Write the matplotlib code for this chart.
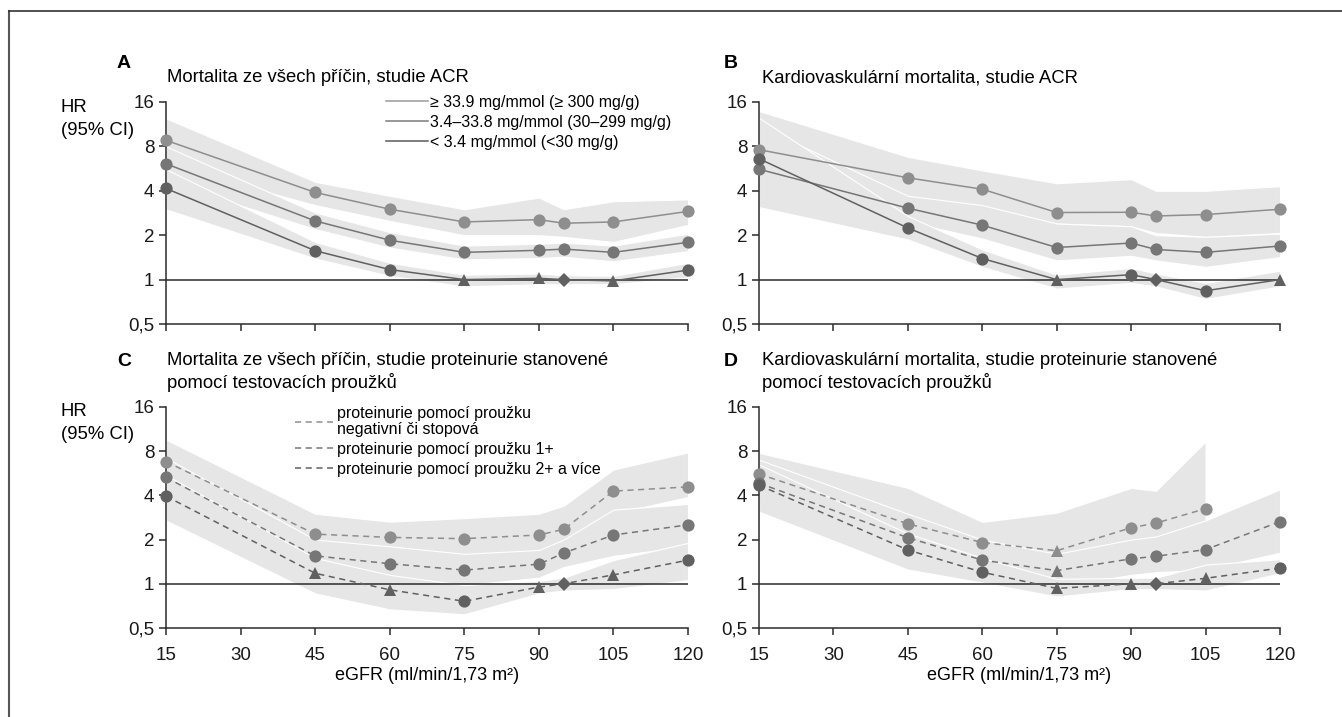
import numpy as np
import matplotlib
matplotlib.use("Agg")
import matplotlib.pyplot as plt
from matplotlib.lines import Line2D
from matplotlib.ticker import FixedLocator, NullLocator

plt.rcParams['font.family'] = ['Liberation Sans Narrow', 'Liberation Sans', 'DejaVu Sans']

nan = np.nan

# eGFR body kategorii (ml/min/1,73 m2)
egfr = [15, 45, 60, 75, 90, 95, 105, 120]
x_ticks = [15, 30, 45, 60, 75, 90, 105, 120]
y_ticks = [0.5, 1, 2, 4, 8, 16]
y_labels = ["0,5", "1", "2", "4", "8", "16"]

# A - mortalita ze vsech pricin, ACR
a_top = [8.8, 3.9, 3.0, 2.46, 2.55, 2.41, 2.46, 2.9]
a_top_lo = [6.0, 3.2, 2.5, 2.0, 2.0, 1.95, 1.8, 2.35]
a_top_hi = [12.4, 4.6, 3.7, 3.0, 3.6, 3.0, 3.4, 3.5]
a_mid = [6.1, 2.5, 1.85, 1.53, 1.58, 1.61, 1.53, 1.79]
a_mid_lo = [4.6, 2.2, 1.65, 1.37, 1.4, 1.43, 1.33, 1.56]
a_mid_hi = [8.0, 2.85, 2.1, 1.7, 1.75, 1.78, 1.7, 2.05]
a_low = [4.15, 1.57, 1.17, 1.0, 1.02, 1.0, 0.98, 1.16]
a_low_lo = [3.0, 1.39, 1.06, 0.9, 0.93, 0.93, 0.93, 1.04]
a_low_hi = [5.6, 1.8, 1.3, 1.08, 1.1, 1.07, 1.06, 1.3]
a_low_mk = ['o', 'o', 'o', '^', '^', 'D', '^', 'o']

# B - kardiovaskularni mortalita, ACR
b_top = [7.6, 4.9, 4.1, 2.85, 2.86, 2.7, 2.76, 3.0]
b_top_lo = [4.3, 3.6, 3.1, 2.4, 2.3, 2.07, 1.95, 2.07]
b_top_hi = [13.9, 6.8, 5.5, 4.5, 4.8, 4.0, 4.0, 4.3]
b_mid = [5.6, 3.05, 2.34, 1.65, 1.77, 1.6, 1.53, 1.69]
b_mid_lo = [3.3, 2.46, 1.9, 1.35, 1.45, 1.35, 1.22, 1.42]
b_mid_hi = [11.0, 3.7, 3.2, 2.4, 2.3, 2.0, 1.95, 2.05]
b_low = [6.6, 2.24, 1.39, 1.0, 1.08, 1.0, 0.84, 1.0]
b_low_lo = [3.1, 1.87, 1.22, 0.87, 0.95, 0.9, 0.74, 0.9]
b_low_hi = [12.5, 2.7, 1.6, 1.08, 1.2, 1.1, 0.95, 1.15]
b_low_mk = ['o', 'o', 'o', '^', 'o', 'D', 'o', '^']

# C - mortalita ze vsech pricin, proteinurie (prouzky)
c_top = [6.8, 2.18, 2.07, 2.03, 2.15, 2.35, 4.28, 4.57]
c_top_lo = [4.5, 1.7, 1.6, 1.55, 1.6, 1.75, 3.0, 3.9]
c_top_hi = [9.6, 3.0, 2.65, 2.8, 3.0, 3.4, 6.0, 7.85]
c_mid = [5.3, 1.55, 1.37, 1.24, 1.36, 1.62, 2.15, 2.52]
c_mid_lo = [3.6, 1.2, 1.05, 0.98, 1.1, 1.3, 1.55, 1.8]
c_mid_hi = [7.2, 2.0, 1.8, 1.6, 1.7, 2.0, 3.2, 3.5]
c_low = [3.95, 1.18, 0.91, 0.76, 0.95, 1.0, 1.15, 1.45]
c_low_lo = [2.7, 0.86, 0.67, 0.62, 0.86, 0.9, 0.92, 1.06]
c_low_hi = [5.5, 1.5, 1.15, 0.98, 1.05, 1.1, 1.45, 1.9]
c_low_mk = ['o', '^', '^', 'o', '^', 'D', '^', 'o']

# D - kardiovaskularni mortalita, proteinurie (prouzky)
d_top = [5.6, 2.56, 1.91, 1.68, 2.41, 2.59, 3.25, nan]
d_top_lo = [3.8, 1.75, 1.4, 1.15, 1.5, 1.6, 1.95, nan]
d_top_hi = [7.8, 4.5, 2.64, 3.05, 4.5, 4.3, 9.3, nan]
d_top_mk = ['o', 'o', 'o', '^', 'o', 'o', 'o', 'o']
d_mid = [4.85, 2.06, 1.45, 1.23, 1.48, 1.54, 1.71, 2.65]
d_mid_lo = [3.3, 1.5, 1.1, 0.95, 1.15, 1.2, 1.25, 1.63]
d_mid_hi = [7.0, 3.0, 2.0, 1.6, 2.0, 2.1, 2.7, 4.4]
d_mid_mk = ['o', 'o', 'o', '^', 'o', 'o', 'o', 'o']
d_low = [4.7, 1.7, 1.2, 0.93, 1.0, 1.0, 1.09, 1.28]
d_low_lo = [3.1, 1.25, 1.02, 0.82, 0.92, 0.92, 0.9, 1.18]
d_low_hi = [6.5, 2.2, 1.5, 1.08, 1.1, 1.1, 1.35, 1.47]
d_low_mk = ['o', 'o', 'o', '^', '^', 'D', '^', 'o']

circ = ['o'] * 8

acr_labels = ["\u2265 33.9 mg/mmol (\u2265 300 mg/g)",
              "3.4\u201333.8 mg/mmol (30\u2013299 mg/g)",
              "< 3.4 mg/mmol (<30 mg/g)"]
dip_labels = ["proteinurie pomocí proužku\nnegativní či stopová",
              "proteinurie pomocí proužku 1+",
              "proteinurie pomocí proužku 2+ a více"]

colors = ['#8e8e8e', '#767676', '#606060']
band_color = '#e6e6e6'
axis_color = '#2b2b2b'

W, H = 1342, 717
fig = plt.figure(figsize=(W / 100, H / 100), dpi=100)


def fx(px):
    return px / W


def fy(py):
    return 1 - py / H


def make_ax(left, right, top, bottom):
    return fig.add_axes([fx(left), fy(bottom), fx(right - left), (bottom - top) / H])


def draw_panel(ax, series, dashed, show_xlabels):
    x = np.array(egfr, dtype=float)
    # pasma 95% CI
    for y, lo, hi, mk in series:
        ax.fill_between(x, lo, hi, facecolor=band_color, edgecolor='white',
                        linewidth=0.8, zorder=1)
    ax.plot([15, 120], [1, 1], color=axis_color, lw=1.1, zorder=2)
    ls = (0, (4, 3)) if dashed else '-'
    for (y, lo, hi, mk), col in zip(series, colors):
        y = np.array(y, dtype=float)
        ax.plot(x, y, linestyle=ls, color=col, lw=1.1, zorder=3)
        for m in set(mk):
            idx = [i for i, v in enumerate(mk) if v == m and not np.isnan(y[i])]
            size = 7.0 if m == 'D' else 8.8
            ax.plot(x[idx], y[idx], linestyle='none', marker=m, markersize=size,
                    color=col, markeredgewidth=0, zorder=4, clip_on=False)
    ax.set_yscale('log', base=2)
    ax.set_xlim(15, 120)
    ax.set_ylim(0.5, 16)
    ax.yaxis.set_major_locator(FixedLocator(y_ticks))
    ax.yaxis.set_minor_locator(NullLocator())
    ax.set_yticklabels(y_labels)
    ax.set_xticks(x_ticks)
    if show_xlabels:
        ax.set_xticklabels([str(v) for v in x_ticks])
        ax.set_xlabel("eGFR (ml/min/1,73 m\u00b2)", fontsize=13, labelpad=2)
    else:
        ax.set_xticklabels([])
    for s in ['top', 'right']:
        ax.spines[s].set_visible(False)
    for s in ['left', 'bottom']:
        ax.spines[s].set_color(axis_color)
        ax.spines[s].set_linewidth(1.1)
    ax.tick_params(direction='out', length=5, width=1.1, color=axis_color,
                   labelsize=13.5, labelcolor='#1a1a1a')
    ax.tick_params(axis='y', pad=3.5)
    ax.tick_params(axis='x', pad=9)
    ax.patch.set_visible(False)


ax_a = make_ax(166, 688, 102, 324)
ax_b = make_ax(759, 1280, 102, 324)
ax_c = make_ax(166, 688, 407, 628)
ax_d = make_ax(759, 1280, 407, 628)

draw_panel(ax_a, [(a_top, a_top_lo, a_top_hi, circ),
                  (a_mid, a_mid_lo, a_mid_hi, circ),
                  (a_low, a_low_lo, a_low_hi, a_low_mk)], False, False)
draw_panel(ax_b, [(b_top, b_top_lo, b_top_hi, circ),
                  (b_mid, b_mid_lo, b_mid_hi, circ),
                  (b_low, b_low_lo, b_low_hi, b_low_mk)], False, False)
draw_panel(ax_c, [(c_top, c_top_lo, c_top_hi, circ),
                  (c_mid, c_mid_lo, c_mid_hi, circ),
                  (c_low, c_low_lo, c_low_hi, c_low_mk)], True, True)
draw_panel(ax_d, [(d_top, d_top_lo, d_top_hi, d_top_mk),
                  (d_mid, d_mid_lo, d_mid_hi, d_mid_mk),
                  (d_low, d_low_lo, d_low_hi, d_low_mk)], True, True)

# legendy
h_acr = [Line2D([], [], color=c, lw=1.1) for c in ['#9a9a9a', '#7a7a7a', '#5a5a5a']]
ax_a.legend(h_acr, acr_labels, loc='upper left', bbox_to_anchor=(fx(386), fy(95)),
            bbox_transform=fig.transFigure, frameon=False, fontsize=11.5,
            handlelength=2.6, handletextpad=0.15, labelspacing=0.3,
            borderpad=0, borderaxespad=0)
h_dip = [Line2D([], [], color=c, lw=1.1, linestyle=(0, (4, 3))) for c in colors]
leg = ax_c.legend(h_dip, dip_labels, loc='upper left', bbox_to_anchor=(fx(295), fy(406)),
                  bbox_transform=fig.transFigure, frameon=False, fontsize=11.5,
                  handlelength=2.4, handletextpad=0.2, labelspacing=0.32,
                  borderpad=0, borderaxespad=0)
for t in leg.get_texts():
    t.set_linespacing(1.05)

# popisky panelu a nadpisy
for lab, px, py in [("A", 117, 63), ("B", 724, 63), ("C", 117, 361), ("D", 724, 361)]:
    fig.text(fx(px), fy(py), lab, fontsize=14, fontweight='bold', va='center', ha='left')

fig.text(fx(167), fy(78), "Mortalita ze všech příčin, studie ACR", fontsize=13.3, va='center')
fig.text(fx(762), fy(78), "Kardiovaskulární mortalita, studie ACR", fontsize=13.3, va='center')
fig.text(fx(167), fy(372), "Mortalita ze všech příčin, studie proteinurie stanovené\npomocí testovacích proužků",
         fontsize=13.3, va='center', linespacing=1.25)
fig.text(fx(762), fy(372), "Kardiovaskulární mortalita, studie proteinurie stanovené\npomocí testovacích proužků",
         fontsize=13.3, va='center', linespacing=1.25)

for py in [119, 423]:
    fig.text(fx(61), fy(py), "HR\n(95% CI)", fontsize=13.3, va='center', ha='left', linespacing=1.45)

# ramecek obrazku (horni a leva hrana)
fig.add_artist(Line2D([fx(9), fx(9)], [0, fy(11)], transform=fig.transFigure, color='#555555', lw=1.5))
fig.add_artist(Line2D([fx(9), 1], [fy(11), fy(11)], transform=fig.transFigure, color='#333333', lw=1.2))

fig.savefig("out.png", dpi=100)
